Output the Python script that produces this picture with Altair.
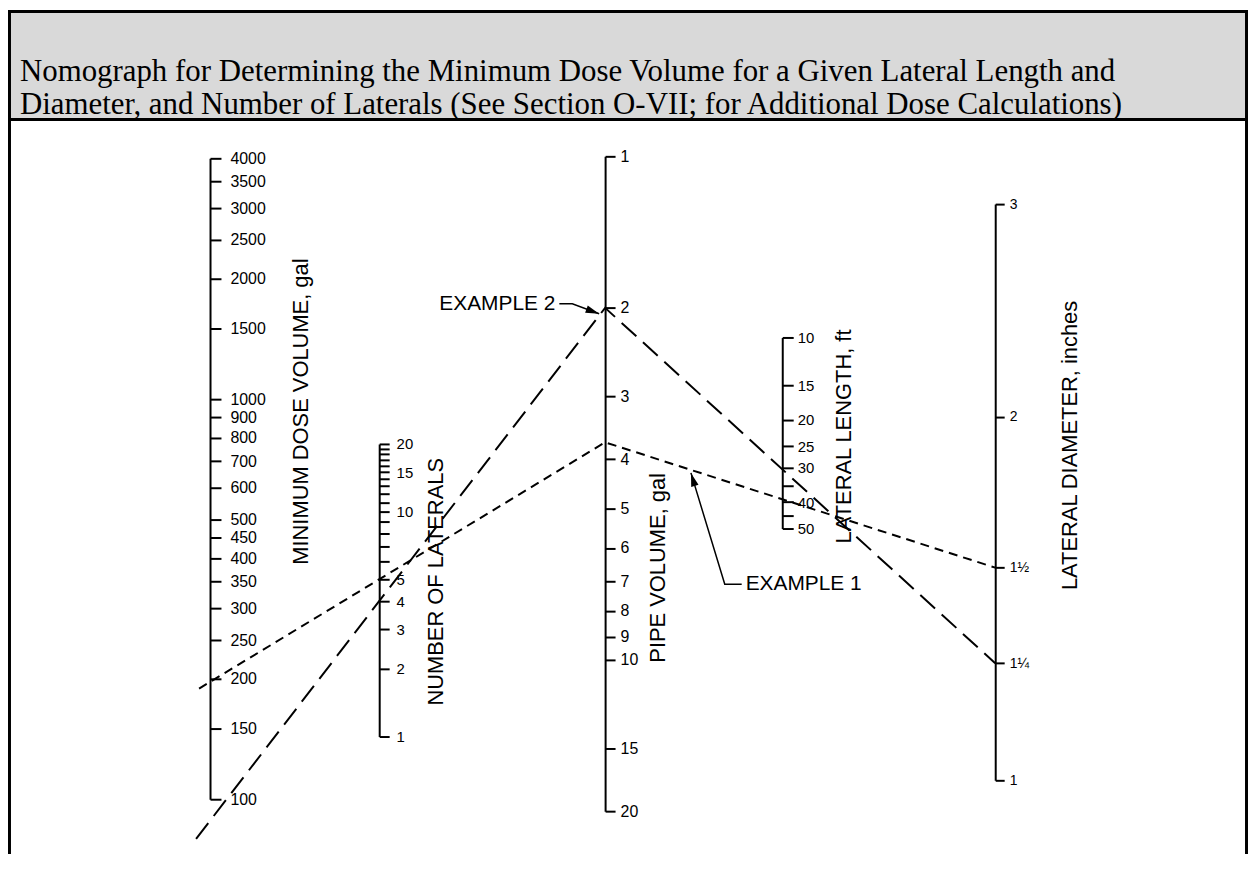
import math
import altair as alt
import pandas as pd

W, H = 1246, 848

TITLE_LINES = [
    "Nomograph for Determining the Minimum Dose Volume for a Given Lateral Length and",
    "Diameter, and Number of Laterals (See Section O-VII; for Additional Dose Calculations)",
]

DOSE_TICKS = [100, 150, 200, 250, 300, 350, 400, 450, 500, 600, 700, 800, 900,
              1000, 1500, 2000, 2500, 3000, 3500, 4000]
LAT_TICKS = list(range(1, 21))
LAT_LABELED = [1, 2, 3, 4, 5, 10, 15, 20]
PIPE_TICKS = [1, 2, 3, 4, 5, 6, 7, 8, 9, 10, 15, 20]
LEN_TICKS = [10, 15, 20, 25, 30, 35, 40, 45, 50]
LEN_LABELED = [10, 15, 20, 25, 30, 40, 50]
DIAM_TICKS = [1, 1.25, 1.5, 2, 3]
DIAM_LABELS = ["1", "1\u00bc", "1\u00bd", "2", "3"]

EX_NAMES = ["EXAMPLE 1", "EXAMPLE 2"]
EX_LATERALS = [5, 4]
EX_PIPE = [3.7, 2.0]
EX_DIAM = [1.5, 1.25]

FONT = "Liberation Sans"

AX = {
    "dose": dict(x=203, domain=[100, 4000], range=[793, 149], ticks=DOSE_TICKS,
                 labels=[str(v) for v in DOSE_TICKS], title="MINIMUM DOSE VOLUME, gal",
                 tx=91, ty=403, fs=16, ts=11, pad=9),
    "lat": dict(x=373, domain=[1, 20], range=[730, 436], ticks=LAT_TICKS,
                labels=[str(v) if v in LAT_LABELED else "" for v in LAT_TICKS],
                title="NUMBER OF LATERALS", tx=57, ty=574, fs=15, ts=10, pad=7),
    "pipe": dict(x=600, domain=[1, 20], range=[147, 805], ticks=PIPE_TICKS,
                 labels=[str(v) for v in PIPE_TICKS], title="PIPE VOLUME, gal",
                 tx=53, ty=560, fs=16, ts=10, pad=5),
    "len": dict(x=778, domain=[10, 50], range=[329, 521], ticks=LEN_TICKS,
                labels=[str(v) if v in LEN_LABELED else "" for v in LEN_TICKS],
                title="LATERAL LENGTH,  ft", tx=62, ty=428, fs=15, ts=11, pad=4),
    "diam": dict(x=992, domain=[1, 3], range=[774, 195], ticks=DIAM_TICKS,
                 labels=DIAM_LABELS, title="LATERAL DIAMETER, inches",
                 tx=75, ty=437, fs=14, ts=9, pad=5),
}


def pos(ax, v):
    d0, d1 = ax["domain"]
    r0, r1 = ax["range"]
    l0, l1 = math.log10(d0), math.log10(d1)
    return r0 + (math.log10(v) - l0) / (l1 - l0) * (r1 - r0)


XS = alt.Scale(domain=[0, W], range=[0, W], nice=False, zero=False)
YS = alt.Scale(domain=[0, H], range=[0, H], nice=False, zero=False)

layers = []

# header box
layers.append(alt.Chart(pd.DataFrame({"a": [0]})).mark_rect(color="#d9d9d9").encode(
    x=alt.value(0), x2=alt.value(W), y=alt.value(0), y2=alt.value(110)))
# frame
frame = pd.DataFrame({"a": [0]})
for enc in [dict(x=alt.value(1.5), y=alt.value(0), y2=alt.value(H)),
            dict(x=alt.value(W - 1.5), y=alt.value(0), y2=alt.value(H)),
            dict(y=alt.value(1.5), x=alt.value(0), x2=alt.value(W)),
            dict(y=alt.value(110), x=alt.value(0), x2=alt.value(W))]:
    layers.append(alt.Chart(frame).mark_rule(color="black", strokeWidth=3).encode(**enc))
# title
layers.append(alt.Chart(frame).mark_text(
    font="Liberation Serif", fontSize=31, align="left", baseline="alphabetic",
    lineHeight=33, color="black").encode(
    x=alt.value(12), y=alt.value(71), text=alt.value(TITLE_LINES)))

# axes
for key, ax in AX.items():
    vals = ax["ticks"]
    lab = ax["labels"]
    expr = "[" + ",".join("'" + s + "'" for s in lab) + "][indexof([" + \
        ",".join(repr(float(v)) for v in vals) + "], datum.value)]"
    axis = alt.Axis(
        orient="right", offset=ax["x"] - W, values=vals, labelExpr=expr,
        tickSize=ax["ts"], tickWidth=2, tickColor="black", domainColor="black",
        domainWidth=2, labelFont=FONT, labelFontSize=ax["fs"], labelColor="black",
        labelPadding=ax["pad"], labelOverlap=False, labelBound=False, labelFlush=False,
        grid=False, title=ax["title"], titleAngle=270, titleX=ax["tx"], titleY=ax["ty"],
        titleFont=FONT, titleFontSize=22, titleFontWeight="normal", titleColor="black",
        titleAlign="center", titleBaseline="middle")
    layers.append(alt.Chart(pd.DataFrame({"v": vals})).mark_point(opacity=0).encode(
        y=alt.Y("v:Q", scale=alt.Scale(type="log", domain=ax["domain"],
                                       range=ax["range"], nice=False), axis=axis)))

# example lines
EXT = [11, 14]
rows = []
arrow_rows = []
head_rows = []
label_rows = []
for i, name in enumerate(EX_NAMES):
    px, py = AX["pipe"]["x"], pos(AX["pipe"], EX_PIPE[i])
    lx, ly = AX["lat"]["x"], pos(AX["lat"], EX_LATERALS[i])
    qx, qy = AX["diam"]["x"], pos(AX["diam"], EX_DIAM[i])
    ex = AX["dose"]["x"] - EXT[i]
    ey = py + (ly - py) / (lx - px) * (ex - px)
    rows += [dict(example=name, x=ex, y=ey, order=0),
             dict(example=name, x=px, y=py, order=1),
             dict(example=name, x=qx, y=qy, order=2)]
    if i == 0:
        t = 0.22
        tip = (px + t * (qx - px), py + t * (qy - py) + 3)
        corner = (tip[0] + 34, tip[1] + 112)
        tail = (corner[0] + 17, corner[1])
        lab = (tail[0] + 4, tail[1], "left")
    else:
        tip = (px - 6, py + 6)
        corner = (tip[0] - 27, tip[1] - 10)
        tail = (corner[0] - 13, corner[1])
        lab = (tail[0] - 4, tail[1], "right")
    for k, p in enumerate([tail, corner, tip]):
        arrow_rows.append(dict(example=name, x=p[0], y=p[1], order=k))
    ang = math.degrees(math.atan2(tip[0] - corner[0], -(tip[1] - corner[1]))) % 360
    head_rows.append(dict(example=name, x=tip[0], y=tip[1], angle=ang))
    label_rows.append(dict(example=name, x=lab[0], y=lab[1], align=lab[2]))

lines_df = pd.DataFrame(rows)
layers.append(alt.Chart(lines_df).mark_line(color="black", strokeWidth=2, strokeCap="butt").encode(
    x=alt.X("x:Q", scale=XS, axis=None),
    y=alt.Y("y:Q", scale=YS, axis=None),
    detail="example:N",
    order="order:Q",
    strokeDash=alt.StrokeDash("example:N", scale=alt.Scale(domain=EX_NAMES, range=[[9, 6], [20, 9]]),
                              legend=None)))

arrow_df = pd.DataFrame(arrow_rows)
layers.append(alt.Chart(arrow_df).mark_line(color="black", strokeWidth=1.5).encode(
    x=alt.X("x:Q", scale=XS, axis=None),
    y=alt.Y("y:Q", scale=YS, axis=None),
    detail="example:N", order="order:Q"))

head_df = pd.DataFrame(head_rows)
layers.append(alt.Chart(head_df).mark_point(
    shape="M0,0L0.45,1.6L-0.45,1.6Z", filled=True, color="black", opacity=1, size=289).encode(
    x=alt.X("x:Q", scale=XS, axis=None),
    y=alt.Y("y:Q", scale=YS, axis=None),
    angle=alt.Angle("angle:Q", scale=None)))

lab_df = pd.DataFrame(label_rows)
for al in ["left", "right"]:
    layers.append(alt.Chart(lab_df[lab_df["align"] == al]).mark_text(
        font=FONT, fontSize=21, align=al, baseline="middle", color="black").encode(
        x=alt.X("x:Q", scale=XS, axis=None),
        y=alt.Y("y:Q", scale=YS, axis=None),
        text="example:N"))

chart = alt.layer(*layers).resolve_scale(y="independent").properties(
    width=W, height=H, padding=0, autosize=alt.AutoSizeParams(type="none"),
    background="white").configure_view(stroke=None)

chart.save("out.html", embed_options={"renderer": "svg", "actions": False})
